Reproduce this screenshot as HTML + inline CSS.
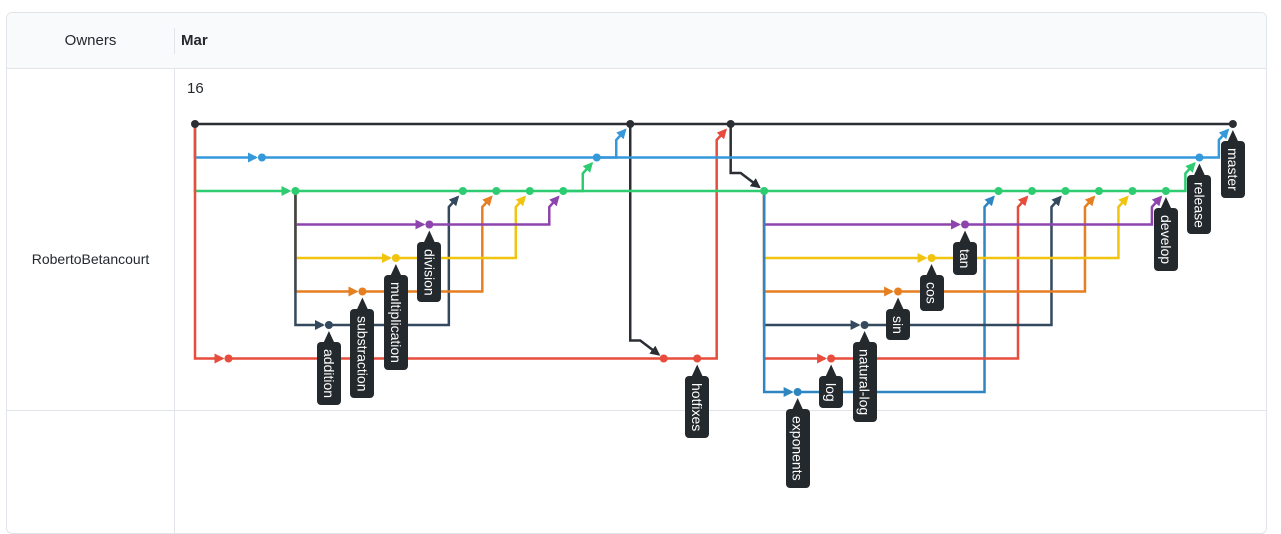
<!DOCTYPE html>
<html><head><meta charset="utf-8">
<style>
body{margin:0;background:#fff;font-family:"Liberation Sans",Arial,sans-serif;width:1281px;height:515px;overflow:hidden;position:relative}
#box{position:absolute;left:6px;top:12px;width:1259px;height:520px;border:1px solid #e1e4e8;border-radius:6px;overflow:hidden}
#hdr{position:absolute;left:0;top:0;width:100%;height:55px;background:#f9fafb;border-bottom:1px solid #e1e4e8}
.t{position:absolute;font-size:15px;color:#24292e}
svg{position:absolute;left:0;top:0}
</style></head><body>
<div id="box">
 <div id="hdr"></div>
 <div style="position:absolute;left:167px;top:15px;width:1px;height:26px;background:#e1e4e8"></div>
 <div style="position:absolute;left:167px;top:56px;width:1px;height:470px;background:#e1e4e8"></div>
 <div style="position:absolute;left:0;top:397px;width:100%;height:1px;background:#e1e4e8"></div>
 <div class="t" style="left:0;width:167px;text-align:center;top:19px">Owners</div>
 <div class="t" style="left:174px;top:19px;font-weight:bold">Mar</div>
 <div class="t" style="left:180px;top:67px">16</div>
 <div class="t" style="left:0;width:167px;text-align:center;top:238px;font-size:14px">RobertoBetancourt</div>
</div>
<svg id="g" width="1281" height="515"></svg>
<script>
// commits: column index, row index (branch lane)
const commitCols=[0,2,3,1,7,6,5,4,8,9,10,11,12,13,14,15,16,17,23,22,21,20,19,18,24,25,26,27,28,29,30,31];
const commitRows=[0,1,2,7,3,4,5,6,2,2,2,2,1,0,7,7,0,2,3,4,5,6,7,8,2,2,2,2,2,2,1,0];
const laneColors=["#2b2f33","#3498db","#2ecc71","#8e44ad","#f1c40f","#e67e22","#34495e","#e74c3c","#2e86c1"];
// edges: from commit index, to commit index, kind
const edgeFrom=[0,0,0,0,2,2,2,2,7,6,5,4,2,8,9,10,11,17,1,12,13,3,14,15,16,13,16,17,17,17,17,17,17,23,22,21,20,19,18,17,24,25,26,27,28,29,12,30];
const edgeTo  =[13,1,2,3,4,5,6,7,8,9,10,11,8,9,10,11,12,24,12,13,16,14,15,16,31,14,17,18,19,20,21,22,23,24,25,26,27,28,29,11,25,26,27,28,29,30,30,31];
const edgeKind=["h","f","f","f","f","f","f","f","m","m","m","m","h","h","h","h","m","h","h","m","h","h","h","m","h","d","d","f","f","f","f","f","f","m","m","m","m","m","m","h","h","h","h","h","h","m","h","m"];
const labelCommit=[7,6,5,4,15,23,22,21,20,19,18,29,30,31];
const labelText=["addition","substraction","multiplication","division","hotfixes","exponents","log","natural-log","sin","cos","tan","develop","release","master"];

const X=c=>195+c*33.48, Y=r=>124+r*33.5;
const svg=document.getElementById('g'), NS="http://www.w3.org/2000/svg";
const defs=document.createElementNS(NS,'defs');svg.appendChild(defs);
laneColors.forEach((c,i)=>{const m=document.createElementNS(NS,'marker');
 m.setAttribute('id','a'+i);m.setAttribute('viewBox','0 0 10 10');m.setAttribute('refX','8');m.setAttribute('refY','5');
 m.setAttribute('markerWidth','4');m.setAttribute('markerHeight','4');m.setAttribute('orient','auto');m.setAttribute('markerUnits','strokeWidth');
 const p=document.createElementNS(NS,'path');p.setAttribute('d','M0,0L10,5L0,10z');p.setAttribute('fill',c);m.appendChild(p);defs.appendChild(m);});
edgeFrom.forEach((f,i)=>{
 const t=edgeTo[i],k=edgeKind[i];
 const sx=X(commitCols[f]),sy=Y(commitRows[f]),tx=X(commitCols[t]),ty=Y(commitRows[t]);
 let d,lane,arrow=true;
 if(k==='h'){d=`M${sx},${sy}H${tx}`;lane=commitRows[f];arrow=false;}
 else if(k==='f'){d=`M${sx},${sy}V${ty}H${tx-6}`;lane=commitRows[t];}
 else if(k==='m'){d=`M${sx},${sy}H${tx-14}V${ty+16}L${tx-5},${ty+6}`;lane=commitRows[f];}
 else {d=`M${sx},${sy}V${ty-18}H${sx+10}L${tx-5},${ty-4}`;lane=commitRows[f];}
 const p=document.createElementNS(NS,'path');
 p.setAttribute('d',d);p.setAttribute('fill','none');p.setAttribute('stroke',laneColors[lane]);p.setAttribute('stroke-width','2.5');
 if(arrow)p.setAttribute('marker-end',`url(#a${lane})`);
 
 
 svg.appendChild(p);
});
commitCols.forEach((c,i)=>{
 const e=document.createElementNS(NS,'circle');
 e.setAttribute('cx',X(c));e.setAttribute('cy',Y(commitRows[i]));e.setAttribute('r','4');e.setAttribute('fill',laneColors[commitRows[i]]);
 
 
 svg.appendChild(e);
});
labelCommit.forEach((ci,i)=>{
 const x=X(commitCols[ci]),y=Y(commitRows[ci]);
 const tri=document.createElementNS(NS,'path');
 tri.setAttribute('d',`M${x-6},${y+19}L${x},${y+6}L${x+6},${y+19}z`);tri.setAttribute('fill','#24292e');
 
 
 svg.appendChild(tri);
 const div=document.createElement('div');
 div.textContent=labelText[i];
 div.style.cssText=`position:absolute;left:${x-12}px;top:${y+17}px;width:24px;padding:7px 0;background:#24292e;color:#fff;border-radius:4px;font-size:14px;line-height:24px;writing-mode:vertical-rl;text-align:center;box-sizing:border-box;`;
 
 
 document.body.appendChild(div);
});
</script>
</body></html>
